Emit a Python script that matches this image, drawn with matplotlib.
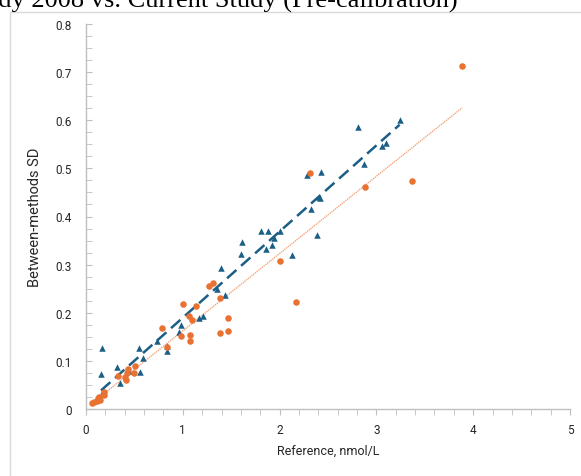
import numpy as np
import matplotlib.pyplot as plt
from matplotlib.patches import Rectangle
from matplotlib.ticker import MultipleLocator

#Study 2008 (blue triangles)
x_2008 = [0.162, 0.155, 0.18, 0.324, 0.352, 0.44, 0.558, 0.551, 0.593, 0.73,
          0.84, 0.84, 0.962, 0.979, 1.17, 1.21, 1.35, 1.39, 1.44, 1.60,
          1.61, 1.81, 1.875, 1.94, 1.86, 1.92, 2.0, 2.13, 2.39, 2.32,
          2.28, 2.43, 2.41, 2.42, 2.87, 2.81, 3.06, 3.10, 3.24]
y_2008 = [0.127, 0.073, 0.037, 0.087, 0.055, 0.079, 0.076, 0.127, 0.106, 0.142,
          0.131, 0.121, 0.159, 0.175, 0.189, 0.194, 0.249, 0.292, 0.237, 0.322,
          0.347, 0.370, 0.370, 0.355, 0.332, 0.341, 0.370, 0.320, 0.361, 0.416,
          0.486, 0.493, 0.441, 0.439, 0.510, 0.586, 0.546, 0.552, 0.600]

#Current study (orange circles)
x_cur = [0.059, 0.086, 0.11, 0.12, 0.145, 0.138, 0.19, 0.19, 0.328, 0.403,
         0.414, 0.42, 0.43, 0.496, 0.51, 0.79, 0.84, 1.0, 0.98, 1.065,
         1.075, 1.07, 1.10, 1.14, 1.275, 1.31, 1.38, 1.38, 1.465, 1.47,
         2.006, 2.17, 2.31, 2.88, 3.37, 3.885]
y_cur = [0.013, 0.014, 0.016, 0.022, 0.019, 0.024, 0.030, 0.036, 0.069, 0.066,
         0.060, 0.075, 0.084, 0.075, 0.090, 0.168, 0.128, 0.218, 0.151, 0.194,
         0.153, 0.142, 0.185, 0.214, 0.256, 0.261, 0.230, 0.158, 0.190, 0.162,
         0.308, 0.223, 0.490, 0.461, 0.473, 0.712]

BLUE = '#1b5f86'
ORANGE = '#e97132'

fig = plt.figure(figsize=(5.81, 4.77), dpi=100)

#Chart frame and clipped title
fig.patches.append(Rectangle((10/581, -0.1), 1.2, 0.1 + 1 - 13/477, transform=fig.transFigure,
                             fill=False, edgecolor='#d9d9d9', lw=1))
fig.text(458/581, 1 - 8/477, "Study 2008 vs. Current Study (Pre-calibration)", ha='right', va='baseline',
         family='Liberation Serif', fontsize=19, color='black')

ax = fig.add_axes([86/581, 1 - 410/477, (570 - 86)/581, (410 - 25)/477])

#Trendlines
xb = np.array(x_2008); yb = np.array(y_2008)
xo = np.array(x_cur); yo = np.array(y_cur)
pb = np.polyfit(xb, yb, 1)
po = np.polyfit(xo, yo, 1)
xl = np.array([xb.min(), xb.max()])
ax.plot(xl, np.polyval(pb, xl), color=BLUE, lw=1.8, dashes=(5, 2.5), zorder=2)
xl = np.array([xo.min(), xo.max()])
ax.plot(xl, np.polyval(po, xl), color='#f4a67c', lw=1.0, ls=(0, (1, 0.6)), zorder=2)

ax.scatter(xb, yb, marker='^', s=22, color=BLUE, linewidths=0, zorder=3)
ax.scatter(xo, yo, marker='o', s=22, color=ORANGE, linewidths=0, zorder=4)

#Format the axes
ax.set_xlim(0, 5)
ax.set_ylim(0, 0.8)
for s in ['top', 'right']:
    ax.spines[s].set_visible(False)
for s in ['left', 'bottom']:
    ax.spines[s].set_color('#bfbfbf')
    ax.spines[s].set_linewidth(1)
ax.xaxis.set_major_locator(MultipleLocator(1))
ax.xaxis.set_minor_locator(MultipleLocator(0.2))
ax.yaxis.set_major_locator(MultipleLocator(0.1))
ax.yaxis.set_minor_locator(MultipleLocator(0.025))
ax.set_yticks(np.arange(0, 0.81, 0.1))
ax.set_yticklabels(['0', '0.1', '0.2', '0.3', '0.4', '0.5', '0.6', '0.7', '0.8'])
ax.tick_params(axis='y', which='both', direction='in', length=4, color='#bfbfbf', pad=10,
               labelsize=8.5, labelcolor='#262626')
ax.tick_params(axis='x', which='both', direction='out', length=4, color='#bfbfbf', pad=6,
               labelsize=8.5, labelcolor='#262626')
for lab in ax.get_xticklabels() + ax.get_yticklabels():
    lab.set_family('Roboto')

#Label the axes
ax.set_xlabel("Reference, nmol/L", family='Roboto', fontsize=9, color='#262626', labelpad=6)
ax.set_ylabel("Between-methods SD", family='Roboto', fontsize=10.5, color='#262626', labelpad=10)

plt.savefig("out.png", dpi=100)
